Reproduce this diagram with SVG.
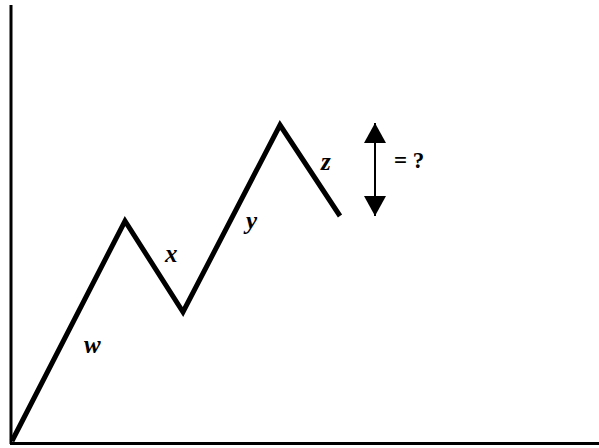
<svg xmlns="http://www.w3.org/2000/svg" width="599" height="448" viewBox="0 0 599 448">
<style>
.axis{stroke:#000;stroke-width:3;fill:none}
.zig{stroke:#000;stroke-width:5;fill:none;stroke-linejoin:miter}
.lbl{font-family:"Liberation Serif",serif;font-style:italic;font-weight:bold;font-size:25px;fill:#000}
.eq{font-family:"Liberation Serif",serif;font-weight:bold;font-size:23px;fill:#000}
</style>
<defs>
<marker id="ah" viewBox="0 0 20 22" refX="20" refY="11" markerWidth="20" markerHeight="22" markerUnits="userSpaceOnUse" orient="auto-start-reverse">
<path d="M0,0 L20,11 L0,22 Z" fill="#000"/>
</marker>
</defs>
<rect width="599" height="448" fill="#fff"/>
<g id="axes">
<line class="axis" x1="11" y1="5" x2="11" y2="444"/>
<line class="axis" x1="10" y1="443.5" x2="599" y2="443.5"/>
</g>
<g id="wave">
<polyline class="zig" points="12,441 125,221 183,312 280,125 340,216"/>
</g>
<g id="connectors">
<line x1="375" y1="123" x2="375" y2="216" stroke="#000" stroke-width="2" marker-start="url(#ah)" marker-end="url(#ah)"/>
</g>
<g id="labels">
<text class="lbl" x="84" y="353">w</text>
<text class="lbl" x="165" y="262">x</text>
<text class="lbl" x="246" y="229">y</text>
<text class="lbl" x="321" y="170">z</text>
<text class="eq" x="394" y="168">= ?</text>
</g>
</svg>
